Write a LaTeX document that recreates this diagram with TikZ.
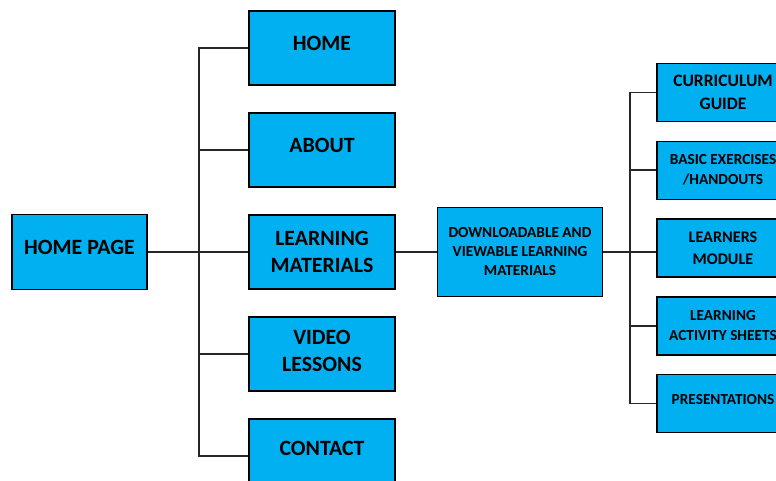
\documentclass[tikz,border=0pt]{standalone}
\usepackage{fontspec}
\setmainfont{Carlito}
\usetikzlibrary{positioning}
\definecolor{skyblue}{HTML}{00B0F0}
\definecolor{darkline}{HTML}{262626}

\begin{document}
\begin{tikzpicture}[x=1pt,y=-1pt,
  box/.style={draw=black,fill=skyblue,line width=1.5pt,align=center,inner sep=2pt},
  mainbox/.style={box,minimum width=146pt,minimum height=74pt,font=\fontsize{21.8}{27}\selectfont\bfseries},
  hpbox/.style={box,minimum width=135pt,minimum height=75pt,font=\fontsize{21.8}{27}\selectfont\bfseries},
  dlbox/.style={box,minimum width=165pt,minimum height=89pt,font=\fontsize{15.3}{19}\selectfont\bfseries},
  subbox/.style={box,minimum width=132pt,minimum height=58pt,font=\fontsize{15.3}{20}\selectfont\bfseries},
  lift/.style={text depth=#1},
  link/.style={draw=darkline,line width=1.6pt}]
  \useasboundingbox (0,0) rectangle (776,480);

  % left part
  \node[hpbox,lift=9pt] (hp) at (79.5,252) {HOME PAGE};
  \node[mainbox] (lm) at (322,252) {LEARNING\\MATERIALS};
  \node[mainbox,lift=10pt,above=26.5pt of lm] (about) {ABOUT};
  \node[mainbox,lift=10pt,above=26.5pt of about] (home) {HOME};
  \node[mainbox,lift=7pt,below=26.5pt of lm] (video) {VIDEO\\LESSONS};
  \node[mainbox,lift=16pt,below=26.5pt of video] (contact) {CONTACT};
  \coordinate (jL) at (199,252);

  \draw[link] (hp) -- (lm);
  \draw[link] (home.west) -| (jL) |- (contact.west);
  \foreach \n in {about,video}
    \draw[link] (\n.west) -- (\n.west -| jL);

  % right part
  \node[dlbox,right=41pt of lm] (dl) {DOWNLOADABLE AND\\VIEWABLE LEARNING\\MATERIALS};
  \node[subbox,font=\fontsize{16.2}{22}\selectfont\bfseries] (lmod) at (723,248) {LEARNERS\\MODULE};
  \node[subbox,above=18.25pt of lmod] (exer) {BASIC EXERCISES\\/HANDOUTS};
  \node[subbox,font=\fontsize{17.5}{23}\selectfont\bfseries,above=18.25pt of exer] (guide) {CURRICULUM\\GUIDE};
  \node[subbox,below=18.25pt of lmod] (sheets) {LEARNING\\ACTIVITY SHEETS};
  \node[subbox,lift=8pt,below=18.25pt of sheets] (pres) {PRESENTATIONS};
  \coordinate (jR) at (630,252);

  \draw[link] (lm) -- (dl);
  \draw[link] (dl.east) -- (dl.east -| lmod.west);
  \draw[link] (guide.west) -| (jR) |- (pres.west);
  \foreach \n in {exer,sheets}
    \draw[link] (\n.west) -- (\n.west -| jR);
\end{tikzpicture}
\end{document}
